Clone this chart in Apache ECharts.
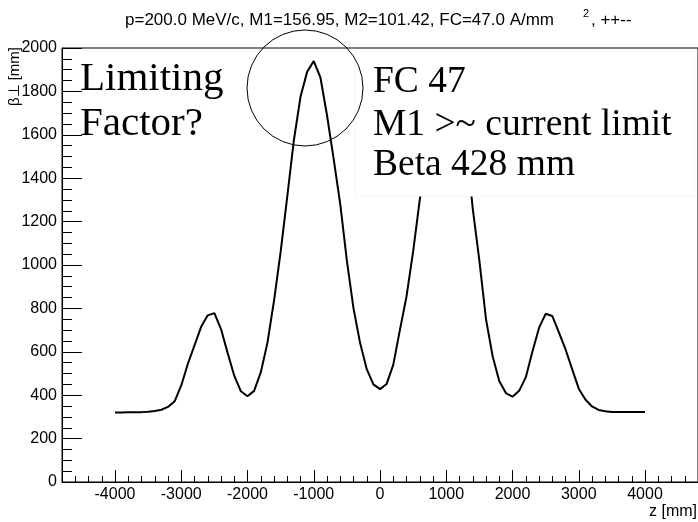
<!DOCTYPE html>
<html><head><meta charset="utf-8">
<script src="https://cdn.jsdelivr.net/npm/echarts@6/dist/echarts.min.js"></script>
<style>html,body{margin:0;padding:0;background:#fff}#c{width:698px;height:522px}</style>
</head><body><div id="c"></div>
<script>
const zPositions = [-4000,-3900,-3800,-3700,-3600,-3500,-3400,-3300,-3200,-3100,
  -3000,-2900,-2800,-2700,-2600,-2500,-2400,-2300,-2200,-2100,
  -2000,-1900,-1800,-1700,-1600,-1500,-1400,-1300,-1200,-1100,
  -1000,-900,-800,-700,-600,-500,-400,-300,-200,-100,
  0,100,200,300,400,500,600,700,800,900,
  1000,1100,1200,1300,1400,1500,1600,1700,1800,1900,
  2000,2100,2200,2300,2400,2500,2600,2700,2800,2900,
  3000,3100,3200,3300,3400,3500,3600,3700,3800,3900,4000];
const betaValues = [320,320,321,321,322,324,327,333,346,372,
  445,545,630,715,768,778,705,595,490,418,
  395,420,505,640,835,1060,1315,1575,1775,1890,
  1940,1865,1690,1490,1280,1020,800,640,520,450,
  428,452,540,700,855,1062,1300,1500,1700,1860,
  1940,1890,1775,1560,1260,1020,750,580,465,410,
  393,420,482,600,710,775,765,690,612,520,
  430,380,348,332,326,323,323,323,323,323,323];
const xTickLabels = [-4000,-3000,-2000,-1000,0,1000,2000,3000,4000];
const yTickLabels = [0,200,400,600,800,1000,1200,1400,1600,1800,2000];
const titleText = 'p=200.0 MeV/c, M1=156.95, M2=101.42, FC=47.0 A/mm';
const titleSup = '2';
const titleTail = ', ++--';
const xName = 'z [mm]';
const yName = 'β⊥ [mm]';
const noteLeft = ['Limiting', 'Factor?'];
const noteRight = ['FC 47', 'M1 >~ current limit', 'Beta 428 mm'];

const xMinor = [];
for (let v = -4800; v <= 4800; v += 200) { if (v % 1000 !== 0) xMinor.push(v); }

const chart = echarts.init(document.getElementById('c'), null, {renderer: 'canvas'});
const sans = 'Liberation Sans, Arial, sans-serif';
const serif = 'Liberation Serif, Times New Roman, serif';
// place text by its baseline (zrender 'top' box -> baseline ~0.84*fontSize below)
function baseTop(baseline, fs) { return baseline - 0.845 * fs; }
const fsL = 41, fsR = 37.5;
chart.setOption({
  animation: false,
  backgroundColor: '#fff',
  grid: {left: 62, right: 0, top: 48, bottom: 40, show: true, borderColor: '#000', borderWidth: 1, backgroundColor: 'transparent'},
  xAxis: [{
    type: 'value', min: -4800, max: 4800,
    axisLine: {show: true, onZero: false, lineStyle: {color: '#000', width: 1}},
    axisTick: {show: true, inside: true, length: 12, customValues: xTickLabels, lineStyle: {color: '#000'}},
    axisLabel: {show: true, customValues: xTickLabels, formatter: v => String(v), fontFamily: sans, fontSize: 16, color: '#000', margin: 5},
    splitLine: {show: false}
  }, {
    type: 'value', min: -4800, max: 4800, position: 'bottom',
    axisLine: {show: false, onZero: false},
    axisTick: {show: true, inside: true, length: 6, customValues: xMinor, lineStyle: {color: '#000'}},
    axisLabel: {show: false},
    splitLine: {show: false}
  }],
  yAxis: {
    type: 'value', min: 0, max: 2000, interval: 200,
    axisLine: {show: true, onZero: false, lineStyle: {color: '#000', width: 1}},
    axisTick: {show: true, inside: true, length: 20, lineStyle: {color: '#000'}},
    minorTick: {show: true, splitNumber: 4, length: 10, lineStyle: {color: '#000'}},
    axisLabel: {formatter: v => String(v), fontFamily: sans, fontSize: 16, color: '#000', margin: 5},
    splitLine: {show: false}
  },
  series: [{
    type: 'line', xAxisIndex: 0,
    data: zPositions.map((z, i) => [z, betaValues[i]]),
    showSymbol: false, symbol: 'none',
    lineStyle: {color: '#000', width: 2}
  }],
  graphic: [
    {type: 'text', z: 100, x: 125, y: baseTop(26.5, 17), style: {text: titleText, font: '17px ' + sans, fill: '#000'}},
    {type: 'text', z: 100, x: 583, y: 8, style: {text: titleSup, font: '11px ' + sans, fill: '#000'}},
    {type: 'text', z: 100, x: 591, y: baseTop(26.5, 17), style: {text: titleTail, font: '17px ' + sans, fill: '#000'}},
    {type: 'rect', z: 100, shape: {x: 355, y: 50, width: 339, height: 146}, style: {fill: '#fff', stroke: '#f6f6f6', lineWidth: 1}},
    {type: 'circle', z: 101, shape: {cx: 305, cy: 88, r: 58}, style: {fill: 'none', stroke: '#000', lineWidth: 1}},
    {type: 'text', z: 102, x: 80, y: baseTop(93, fsL), style: {text: noteLeft[0], font: fsL + 'px ' + serif, fill: '#000'}},
    {type: 'text', z: 102, x: 80, y: baseTop(138, fsL), style: {text: noteLeft[1], font: fsL + 'px ' + serif, fill: '#000'}},
    {type: 'text', z: 102, x: 373, y: baseTop(95, fsR), style: {text: noteRight[0], font: fsR + 'px ' + serif, fill: '#000'}},
    {type: 'text', z: 102, x: 373, y: baseTop(138, fsR), style: {text: noteRight[1], font: fsR + 'px ' + serif, fill: '#000'}},
    {type: 'text', z: 102, x: 373, y: baseTop(178, fsR), style: {text: noteRight[2], font: fsR + 'px ' + serif, fill: '#000'}},
    {type: 'text', z: 100, x: 697, y: 512, style: {text: xName, font: '16px ' + sans, fill: '#000', align: 'right', verticalAlign: 'middle'}},
    {type: 'text', z: 100, x: 15, y: 47, rotation: Math.PI / 2, style: {text: yName, font: '15px ' + sans, fill: '#000', align: 'right', verticalAlign: 'middle'}}
  ]
});
</script>
</body></html>
